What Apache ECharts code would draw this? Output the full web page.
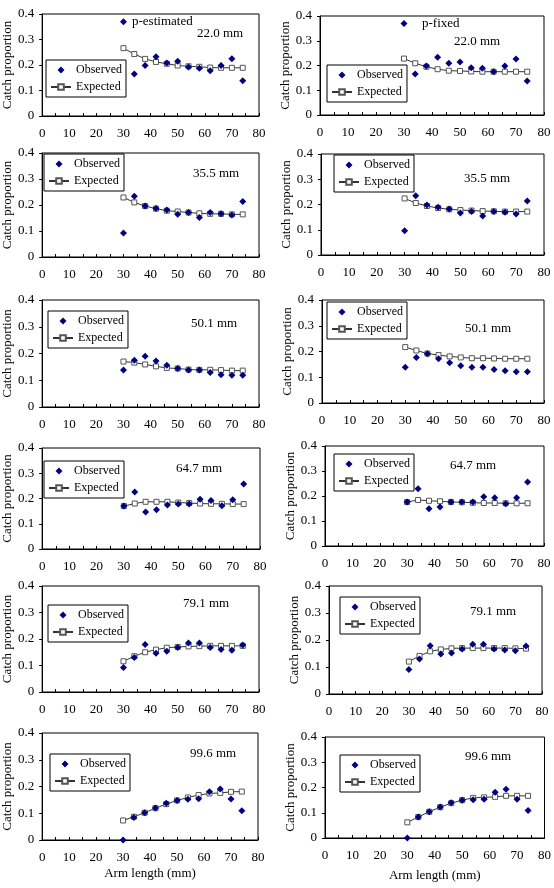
<!DOCTYPE html>
<html>
<head>
<meta charset="utf-8">
<script src="https://cdn.jsdelivr.net/npm/echarts@6/dist/echarts.min.js"></script>
<style>
  html, body { margin: 0; padding: 0; background: #fff; }
  #chart { width: 554px; height: 888px; }
</style>
</head>
<body>
<div id="chart"></div>
<script>
  'use strict'

  /************************ DATA *************************/
  var armLength = [30, 34, 38, 42, 46, 50, 54, 58, 62, 66, 70, 74];

  // 22.0 mm
  var obs22Est = [0.370, 0.165, 0.198, 0.232, 0.208, 0.215, 0.192, 0.187, 0.177, 0.198, 0.225, 0.138];
  var exp22Est = [0.266, 0.243, 0.224, 0.212, 0.205, 0.198, 0.195, 0.193, 0.190, 0.189, 0.189, 0.189];
  var obs22Fix = [0.370, 0.166, 0.198, 0.233, 0.209, 0.214, 0.191, 0.189, 0.175, 0.198, 0.226, 0.137];
  var exp22Fix = [0.228, 0.209, 0.195, 0.185, 0.179, 0.178, 0.176, 0.175, 0.175, 0.175, 0.175, 0.175];
  // 35.5 mm
  var obs355Est = [0.092, 0.234, 0.196, 0.187, 0.181, 0.164, 0.171, 0.152, 0.171, 0.166, 0.162, 0.213];
  var exp355Est = [0.229, 0.210, 0.196, 0.186, 0.178, 0.175, 0.171, 0.168, 0.166, 0.166, 0.164, 0.164];
  var obs355Fix = [0.096, 0.235, 0.198, 0.189, 0.182, 0.166, 0.172, 0.154, 0.172, 0.169, 0.162, 0.214];
  var exp355Fix = [0.224, 0.206, 0.194, 0.186, 0.181, 0.178, 0.176, 0.174, 0.173, 0.172, 0.172, 0.172];
  // 50.1 mm
  var obs501Est = [0.138, 0.175, 0.190, 0.172, 0.156, 0.144, 0.138, 0.138, 0.129, 0.121, 0.119, 0.119];
  var exp501Est = [0.170, 0.166, 0.159, 0.152, 0.146, 0.144, 0.140, 0.139, 0.139, 0.138, 0.136, 0.136];
  var obs501Fix = [0.139, 0.177, 0.191, 0.172, 0.156, 0.145, 0.139, 0.139, 0.130, 0.125, 0.121, 0.121];
  var exp501Fix = [0.217, 0.204, 0.192, 0.186, 0.181, 0.177, 0.174, 0.174, 0.173, 0.172, 0.172, 0.172];
  // 64.7 mm
  var obs647Est = [0.170, 0.226, 0.147, 0.155, 0.174, 0.178, 0.178, 0.197, 0.192, 0.171, 0.195, 0.257];
  var exp647Est = [0.170, 0.180, 0.187, 0.187, 0.187, 0.184, 0.182, 0.180, 0.179, 0.179, 0.178, 0.178];
  var obs647Fix = [0.176, 0.229, 0.149, 0.156, 0.176, 0.176, 0.176, 0.197, 0.193, 0.169, 0.193, 0.256];
  var exp647Fix = [0.176, 0.184, 0.181, 0.179, 0.176, 0.175, 0.173, 0.172, 0.172, 0.171, 0.171, 0.171];
  // 79.1 mm
  var obs791Est = [0.092, 0.130, 0.179, 0.146, 0.154, 0.168, 0.185, 0.185, 0.168, 0.160, 0.158, 0.177];
  var exp791Est = [0.116, 0.135, 0.150, 0.160, 0.167, 0.170, 0.172, 0.173, 0.174, 0.174, 0.174, 0.174];
  var obs791Fix = [0.091, 0.130, 0.179, 0.148, 0.152, 0.167, 0.184, 0.184, 0.167, 0.163, 0.160, 0.178];
  var exp791Fix = [0.120, 0.141, 0.158, 0.165, 0.169, 0.170, 0.170, 0.170, 0.170, 0.170, 0.169, 0.168];
  // 99.6 mm
  var obs996Est = [0.000, 0.084, 0.102, 0.120, 0.137, 0.148, 0.152, 0.154, 0.180, 0.191, 0.153, 0.109];
  var exp996Est = [0.073, 0.087, 0.102, 0.119, 0.134, 0.148, 0.159, 0.168, 0.174, 0.176, 0.180, 0.181];
  var obs996Fix = [0.000, 0.083, 0.104, 0.123, 0.140, 0.150, 0.151, 0.153, 0.181, 0.193, 0.153, 0.109];
  var exp996Fix = [0.062, 0.083, 0.104, 0.122, 0.138, 0.150, 0.159, 0.161, 0.163, 0.167, 0.167, 0.167];

  var sizeLabels = ['22.0 mm', '35.5 mm', '50.1 mm', '64.7 mm', '79.1 mm', '99.6 mm'];

  /************************ LAYOUT *************************/
  var panels = [
    { obs: obs22Est,  exp: exp22Est,  grid: [36, 14, 223, 102],  legend: [46, 60],   label: [0, 197, 35] },
    { obs: obs22Fix,  exp: exp22Fix,  grid: [320, 16, 224, 99],  legend: [327, 65],  label: [0, 454, 43] },
    { obs: obs355Est, exp: exp355Est, grid: [37, 153, 222, 104], legend: [44, 154],  label: [1, 193, 175] },
    { obs: obs355Fix, exp: exp355Fix, grid: [321, 154, 223, 101], legend: [334, 155], label: [1, 464, 180] },
    { obs: obs501Est, exp: exp501Est, grid: [37, 300, 222, 107], legend: [48, 311],  label: [2, 191, 325] },
    { obs: obs501Fix, exp: exp501Fix, grid: [322, 300, 222, 103], legend: [327, 302], label: [2, 465, 330] },
    { obs: obs647Est, exp: exp647Est, grid: [37, 448, 223, 101], legend: [44, 461],  label: [3, 176, 470] },
    { obs: obs647Fix, exp: exp647Fix, grid: [325, 446, 219, 100], legend: [334, 454], label: [3, 450, 467] },
    { obs: obs791Est, exp: exp791Est, grid: [37, 586, 222, 106], legend: [48, 605],  label: [4, 183, 605] },
    { obs: obs791Fix, exp: exp791Fix, grid: [329, 586, 213, 108], legend: [340, 597], label: [4, 470, 613] },
    { obs: obs996Est, exp: exp996Est, grid: [38, 733, 220, 107], legend: [50, 754],  label: [5, 190, 755] },
    { obs: obs996Fix, exp: exp996Fix, grid: [325, 737, 220, 101], legend: [340, 755], label: [5, 465, 758] }
  ];

  var FONT = '"Liberation Serif", "Times New Roman", serif';
  // small diamond centred in a 20x7 box so the legend does not stretch it
  var DIAMOND_ICON = 'path://M0,0L0,0M20,7L20,7M10,0L13.5,3.5L10,7L6.5,3.5Z';

  var grids = [], xAxes = [], yAxes = [], series = [], legends = [], texts = [];

  panels.forEach(function (p, i) {
    var isBottom = i >= 10;
    var isRight = i % 2 === 1;

    grids.push({
      left: p.grid[0], top: p.grid[1], width: p.grid[2], height: p.grid[3],
      show: true, borderColor: '#000', borderWidth: 1, backgroundColor: 'transparent'
    });

    xAxes.push({
      type: 'value', gridIndex: i, min: 0, max: 80, interval: 5,
      name: isBottom ? 'Arm length (mm)' : '',
      nameLocation: 'middle', nameGap: isBottom ? (isRight ? 31 : 27) : 0,
      nameTextStyle: { fontFamily: FONT, fontSize: 13, color: '#000' },
      axisLine: { lineStyle: { color: '#000', width: 1 } },
      axisTick: { inside: true, length: 3, lineStyle: { color: '#000' } },
      axisLabel: {
        fontFamily: FONT, fontSize: 13, color: '#000', margin: 11,
        formatter: function (v) { return v % 10 === 0 ? String(v) : ''; }
      },
      splitLine: { show: false }
    });

    yAxes.push({
      type: 'value', gridIndex: i, min: 0, max: 0.4, interval: 0.1,
      name: 'Catch proportion', nameLocation: 'middle', nameGap: isRight ? 27 : 26,
      nameTextStyle: { fontFamily: FONT, fontSize: 13, color: '#000' },
      axisLine: { show: true, lineStyle: { color: '#000', width: 1 } },
      axisTick: { show: true, length: 3, lineStyle: { color: '#000' } },
      axisLabel: {
        fontFamily: FONT, fontSize: 13, color: '#000', margin: 8,
        formatter: function (v) { return v === 0 ? '0' : v.toFixed(1); }
      },
      splitLine: { show: false }
    });

    series.push({
      name: 'Observed', type: 'scatter', xAxisIndex: i, yAxisIndex: i,
      symbol: 'diamond', symbolSize: 7,
      itemStyle: { color: '#000080', opacity: 1 },
      data: armLength.map(function (x, k) { return [x, p.obs[k]]; }),
      z: 3
    });
    series.push({
      name: 'Expected', type: 'line', xAxisIndex: i, yAxisIndex: i,
      symbol: 'rect', symbolSize: 5, showAllSymbol: true,
      lineStyle: { color: '#333', width: 1 },
      itemStyle: { color: '#fff', borderColor: '#555', borderWidth: 1 },
      data: armLength.map(function (x, k) { return [x, p.exp[k]]; }),
      z: 2
    });

    legends.push({
      left: p.legend[0], top: p.legend[1], orient: 'vertical',
      data: [{ name: 'Observed', icon: DIAMOND_ICON }, { name: 'Expected' }],
      borderColor: '#000', borderWidth: 1, padding: [4, 4, 4, 4],
      itemWidth: 20, itemHeight: 7, itemGap: 5,
      selectedMode: false,
      textStyle: { fontFamily: FONT, fontSize: 12, color: '#000' }
    });

    texts.push({
      type: 'text', left: p.label[1], top: p.label[2] - 8,
      style: { text: sizeLabels[p.label[0]], font: '13px ' + FONT, fill: '#000' }
    });
  });

  texts.push({
    type: 'text', left: 132, top: 15,
    style: { text: 'p-estimated', font: '13px ' + FONT, fill: '#000' }
  });
  texts.push({
    type: 'text', left: 422, top: 17,
    style: { text: 'p-fixed', font: '13px ' + FONT, fill: '#000' }
  });

  var chart = echarts.init(document.getElementById('chart'));
  chart.setOption({
    animation: false,
    backgroundColor: '#fff',
    grid: grids,
    xAxis: xAxes,
    yAxis: yAxes,
    legend: legends,
    graphic: texts,
    series: series
  });
</script>
</body>
</html>
